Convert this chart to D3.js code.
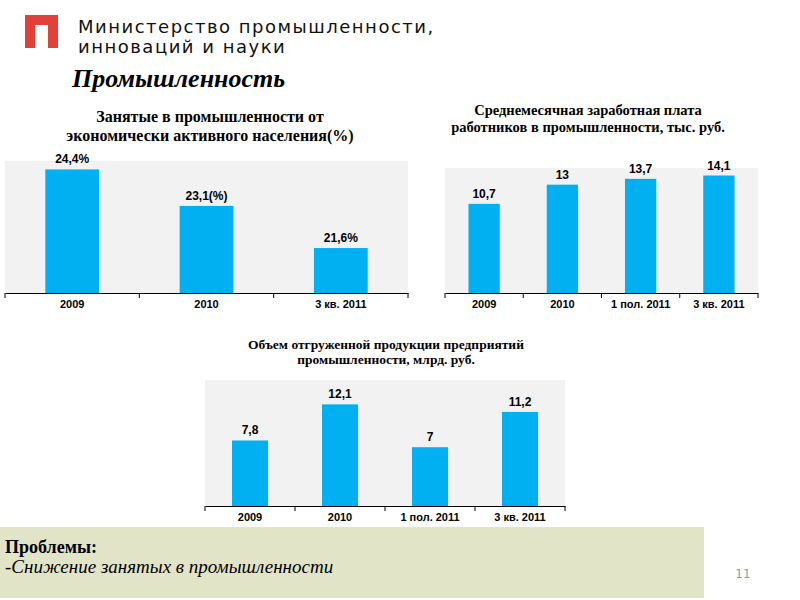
<html>
<head>
  <meta charset="utf-8">
  <style>
  body {
    margin: 0;
    background: #fff;
  }
  .title {
    font-family: "Liberation Serif", serif;
    font-weight: bold;
  }
  .axis .domain {
    stroke: #000;
  }
  .axis text {
    font-family: "Liberation Sans", Arial, sans-serif;
    font-size: 11px;
    font-weight: bold;
    fill: #000;
  }
  .val {
    font-family: "Liberation Sans", Arial, sans-serif;
    font-size: 12px;
    font-weight: bold;
  }
  </style>
</head>
<body>
<div id="slide"></div>
<script src="https://cdn.jsdelivr.net/npm/d3@7"></script>
<script>

// chart 1: employed in industry (% of active population)
var empCategories = ["2009", "2010", "3 кв. 2011"];
var empValues = [24.4, 23.1, 21.6];
var empLabels = ["24,4%", "23,1(%)", "21,6%"];

// chart 2: average monthly wage, thousand rub
var wageCategories = ["2009", "2010", "1 пол. 2011", "3 кв. 2011"];
var wageValues = [10.7, 13, 13.7, 14.1];

// chart 3: shipped production volume, bln rub
var outCategories = ["2009", "2010", "1 пол. 2011", "3 кв. 2011"];
var outValues = [7.8, 12.1, 7, 11.2];

var barColor = "#00b0f0";

var svg = d3.select("#slide")
  .append("svg")
    .attr("width", 800)
    .attr("height", 600);

// logo
var logo = svg.append("g").attr("fill", "#e0413a");
logo.append("rect").attr("x", 25).attr("y", 15).attr("width", 33).attr("height", 10);
logo.append("rect").attr("x", 25).attr("y", 15).attr("width", 10).attr("height", 33);
logo.append("rect").attr("x", 48).attr("y", 15).attr("width", 10).attr("height", 33);

// header
var head = svg.append("text")
  .attr("font-family", "'DejaVu Sans', sans-serif")
  .attr("font-size", 18)
  .attr("letter-spacing", 1.5)
  .attr("fill", "#111");
head.append("tspan").attr("x", 78).attr("y", 33).text("Министерство промышленности,");
head.append("tspan").attr("x", 78).attr("y", 53).text("инноваций и науки");

svg.append("text")
  .attr("x", 72).attr("y", 87)
  .attr("font-family", "'Liberation Serif', serif")
  .attr("font-size", 26)
  .attr("font-weight", "bold")
  .attr("font-style", "italic")
  .text("Промышленность");

function barChart(opt) {
  var g = svg.append("g");

  var x = d3.scaleBand()
    .domain(opt.categories)
    .range([opt.left, opt.right])
    .paddingInner(0.6)
    .paddingOuter(0.3);

  var y = d3.scaleLinear()
    .domain(opt.domain)
    .range([opt.bottom, opt.top]);

  // plot background
  g.append("rect")
    .attr("x", opt.left)
    .attr("y", opt.top)
    .attr("width", opt.right - opt.left)
    .attr("height", opt.bottom - opt.top)
    .attr("fill", "#f2f2f2");

  // title
  var t = g.append("text")
    .attr("class", "title")
    .attr("text-anchor", "middle")
    .attr("font-size", opt.titleSize);
  opt.title.forEach(function(line, i) {
    t.append("tspan")
      .attr("x", opt.titleX)
      .attr("y", opt.titleY + i * opt.titleGap)
      .text(line);
  });

  g.selectAll(".bar")
    .data(opt.values)
    .enter()
    .append("rect")
      .attr("class", "bar")
      .attr("x", function(d, i) { return x(opt.categories[i]); })
      .attr("y", function(d) { return y(d); })
      .attr("width", x.bandwidth())
      .attr("height", function(d) { return opt.bottom - y(d); })
      .attr("fill", barColor);

  g.selectAll(".val")
    .data(opt.values)
    .enter()
    .append("text")
      .attr("class", "val")
      .attr("text-anchor", "middle")
      .attr("x", function(d, i) { return x(opt.categories[i]) + x.bandwidth() / 2; })
      .attr("y", function(d) { return y(d) - 6; })
      .text(function(d, i) { return opt.labels ? opt.labels[i] : String(d).replace(".", ","); });

  // axis: labels under bars, ticks at the band borders
  var axis = g.append("g")
    .attr("class", "axis")
    .attr("transform", "translate(0," + opt.bottom + ")")
    .call(d3.axisBottom(x).tickSize(0).tickSizeOuter(0).tickPadding(7));

  var borders = d3.range(opt.categories.length + 1).map(function(i) {
    return opt.left + i * x.step();
  });
  axis.selectAll(".border")
    .data(borders)
    .enter()
    .append("line")
      .attr("class", "border")
      .attr("x1", function(d) { return d; })
      .attr("x2", function(d) { return d; })
      .attr("y1", 0)
      .attr("y2", 5)
      .attr("stroke", "#000");
}

barChart({
  categories: empCategories,
  values: empValues,
  labels: empLabels,
  domain: [20, 24.7],
  left: 5, right: 408, top: 161, bottom: 293,
  title: ["Занятые в промышленности от", "экономически активного населения(%)"],
  titleX: 210, titleY: 122, titleGap: 19, titleSize: 16
});

barChart({
  categories: wageCategories,
  values: wageValues,
  domain: [0, 15],
  left: 445, right: 758, top: 168, bottom: 293,
  title: ["Среднемесячная заработная плата", "работников в промышленности, тыс. руб."],
  titleX: 588, titleY: 115, titleGap: 17, titleSize: 14.5
});

barChart({
  categories: outCategories,
  values: outValues,
  domain: [0, 15],
  left: 205, right: 565, top: 380, bottom: 506,
  title: ["Объем отгруженной продукции предприятий", "промышленности, млрд. руб."],
  titleX: 386, titleY: 349, titleGap: 15, titleSize: 13.5
});

// problems box
svg.append("rect")
  .attr("x", 0).attr("y", 527)
  .attr("width", 704).attr("height", 71)
  .attr("fill", "#e2e4c8");

svg.append("text")
  .attr("x", 5).attr("y", 553)
  .attr("font-family", "'Liberation Serif', serif")
  .attr("font-size", 18)
  .attr("font-weight", "bold")
  .text("Проблемы:");

svg.append("text")
  .attr("x", 5).attr("y", 573)
  .attr("font-family", "'Liberation Serif', serif")
  .attr("font-size", 19)
  .attr("font-style", "italic")
  .text("-Снижение занятых в промышленности");

svg.append("text")
  .attr("x", 743).attr("y", 578)
  .attr("font-family", "'DejaVu Sans', sans-serif")
  .attr("font-size", 12)
  .attr("text-anchor", "middle")
  .attr("fill", "#999")
  .text("11");

</script>
</body>
</html>
